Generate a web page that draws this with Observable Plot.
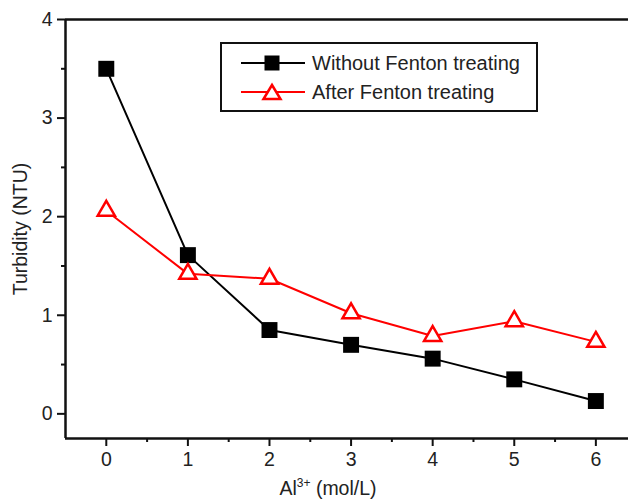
<!DOCTYPE html>
<html>
<head>
<meta charset="utf-8">
<script src="https://cdn.jsdelivr.net/npm/d3@7"></script>
<script src="https://cdn.jsdelivr.net/npm/@observablehq/plot@0.6"></script>
<style>
  html, body { margin: 0; padding: 0; background: #fff; }
  #wrap { position: relative; width: 628px; height: 499px; overflow: hidden; font-family: "Liberation Sans", Arial, sans-serif; color: #222; }
  #legend { position: absolute; left: 220px; top: 42px; width: 318px; height: 70px; box-sizing: border-box; border: 2px solid #111; background: #fff; }
  .row { position: absolute; left: 0; height: 24px; display: block; }
  .row svg { position: absolute; left: 19px; top: 0; }
  .row span { position: absolute; left: 90px; top: 0; font-size: 20px; line-height: 24px; white-space: nowrap; }
  #xtitle { position: absolute; left: 0; width: 656px; text-align: center; top: 479px; font-size: 19.5px; line-height: 19px; white-space: nowrap; }
  #xtitle .sup { font-size: 12px; position: relative; top: -8px; }
</style>
</head>
<body>
<div id="wrap"></div>
<script>
// Data
const doses = [0, 1, 2, 3, 4, 5, 6];              // Al3+ (mol/L)
const withoutFenton = [3.50, 1.61, 0.85, 0.70, 0.56, 0.35, 0.13];
const afterFenton   = [2.06, 1.42, 1.37, 1.02, 0.79, 0.94, 0.73];
const seriesNames = ["Without Fenton treating", "After Fenton treating"];
const yTicks = [0, 1, 2, 3, 4];
const yMinor = [0.5, 1.5, 2.5, 3.5];
const xTicks = [0, 1, 2, 3, 4, 5, 6];
const xMinor = [0.5, 1.5, 2.5, 3.5, 4.5, 5.5];

const black = doses.map((d, i) => ({x: d, y: withoutFenton[i]}));
const red = doses.map((d, i) => ({x: d, y: afterFenton[i]}));
const fmt = d3.format("d");

const chart = Plot.plot({
  width: 628,
  height: 499,
  marginLeft: 65,
  marginTop: 19,
  marginBottom: 61,
  marginRight: 0,
  style: {fontFamily: "Liberation Sans, Arial, sans-serif", fontSize: "20px", color: "#222", background: "#fff"},
  x: {domain: [-0.5, 6.4]},
  y: {domain: [-0.25, 4]},
  marks: [
    Plot.axisY({ticks: yTicks, tickSize: 8, tickPadding: 5, strokeWidth: 2, stroke: "#111", tickFormat: fmt,
      label: "Turbidity (NTU)", labelAnchor: "center", labelArrow: "none", labelOffset: 52, fontSize: 19.5}),
    Plot.axisY({ticks: yMinor, tickSize: 4, strokeWidth: 2, stroke: "#111", tickFormat: () => "", label: null}),
    Plot.axisX({ticks: xTicks, tickSize: 8, tickPadding: 6, strokeWidth: 2, stroke: "#111", tickFormat: fmt, label: null, fontSize: 19.5}),
    Plot.axisX({ticks: xMinor, tickSize: 4, strokeWidth: 2, stroke: "#111", tickFormat: () => "", label: null}),
    Plot.ruleX([-0.5], {stroke: "#111", strokeWidth: 2.5}),
    Plot.ruleY([-0.25], {stroke: "#111", strokeWidth: 2.5}),
    Plot.ruleY([4], {stroke: "#111", strokeWidth: 2.5}),
    Plot.line(black, {x: "x", y: "y", stroke: "#000", strokeWidth: 2}),
    Plot.line(red, {x: "x", y: "y", stroke: "#ff0000", strokeWidth: 2}),
    Plot.dot(black, {x: "x", y: "y", symbol: "square", r: 9, fill: "#000", stroke: "none"}),
    Plot.dot(red, {x: "x", y: "y", symbol: "triangle", r: 6.4, fill: "#fff", stroke: "#ff0000", strokeWidth: 2.5})
  ]
});

const wrap = document.getElementById("wrap");
wrap.appendChild(chart);

// Legend (HTML overlay inside the plot frame)
const legend = document.createElement("div");
legend.id = "legend";
const rowTops = [7, 36];
const markers = [
  `<rect x="23.5" y="4.5" width="15" height="15" fill="#000"/>`,
  `<path d="M31,5 L39.5,19 L22.5,19 Z" fill="#fff" stroke="#ff0000" stroke-width="2.5" stroke-linejoin="miter"/>`
];
const colors = ["#000", "#ff0000"];
seriesNames.forEach((name, i) => {
  const row = document.createElement("div");
  row.className = "row";
  row.style.top = rowTops[i] + "px";
  row.innerHTML = `<svg width="64" height="24"><line x1="0" x2="64" y1="12" y2="12" stroke="${colors[i]}" stroke-width="2"/>${markers[i]}</svg><span>${name}</span>`;
  legend.appendChild(row);
});
wrap.appendChild(legend);

const xt = document.createElement("div");
xt.id = "xtitle";
xt.innerHTML = `Al<span class="sup">3+</span> (mol/L)`;
wrap.appendChild(xt);
</script>
</body>
</html>
